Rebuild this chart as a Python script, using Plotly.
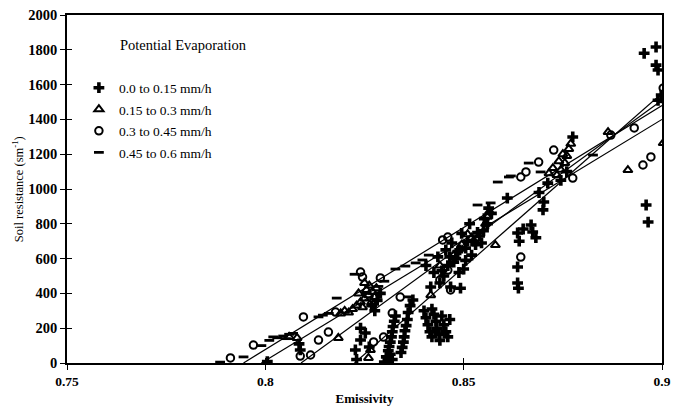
import plotly.graph_objects as go

# Soil resistance vs surface emissivity, grouped by potential evaporation class

# 0.0 to 0.15 mm/h
plus_emis = [0.8005, 0.8088, 0.8085, 0.8227, 0.8230, 0.8240, 0.8252, 0.8240, 0.8262,
             0.8300, 0.8310, 0.8320, 0.8305, 0.8315, 0.8310, 0.8312, 0.8315, 0.8318, 0.8320, 0.8322, 0.8325, 0.8328,
             0.8342, 0.8345, 0.8348, 0.8350, 0.8352, 0.8355, 0.8358, 0.8360, 0.8365, 0.8372,
             0.8400, 0.8405, 0.8410, 0.8415, 0.8420, 0.8425, 0.8430, 0.8432, 0.8438, 0.8440, 0.8445, 0.8450, 0.8455, 0.8460, 0.8465, 0.8420,
             0.8417, 0.8440, 0.8467, 0.8492, 0.8450, 0.8460, 0.8480, 0.8490, 0.8500, 0.8510, 0.8520, 0.8530, 0.8540, 0.8550,
             0.8470, 0.8495, 0.8425, 0.8405, 0.8435, 0.8515, 0.8560, 0.8570,
             0.8445, 0.8475, 0.8485, 0.8505, 0.8525, 0.8535, 0.8545, 0.8465, 0.8455, 0.8505, 0.8488, 0.8552, 0.8563,
             0.8268, 0.8282, 0.8276, 0.8290,
             0.8636, 0.8640, 0.8636, 0.8636, 0.8638, 0.8674, 0.8670, 0.8682, 0.8650,
             0.8702, 0.8700, 0.8712, 0.8610, 0.8690, 0.8775, 0.8745, 0.8760,
             0.8955, 0.8985, 0.8985, 0.8990, 0.8990, 0.8998, 0.8960, 0.8965]
plus_res = [8, 75, 110, 75, 20, 200, 172, 132, 92,
            5, 10, 20, 35, 50, 70, 95, 120, 150, 180, 210, 240, 270,
            60, 90, 120, 150, 185, 215, 250, 290, 330, 362,
            300, 260, 220, 180, 150, 280, 240, 200, 165, 130, 270, 220, 180, 150, 250, 310,
            437, 460, 437, 430, 500, 560, 600, 650, 540, 700, 620, 680, 730, 760,
            690, 745, 520, 560, 610, 800, 800, 860,
            530, 580, 640, 660, 700, 750, 690, 610, 650, 590, 520, 830, 890,
            330, 360, 300, 400,
            747, 700, 552, 460, 430, 753, 793, 720, 770,
            925, 880, 1034, 948, 980, 1299, 1050, 1100,
            1780, 1816, 1712, 1684, 1510, 1540, 908, 810]

# 0.15 to 0.3 mm/h
tri_emis = [0.8060, 0.8080, 0.8184, 0.8260, 0.8265,
            0.8200, 0.8220, 0.8230, 0.8240, 0.8250, 0.8260, 0.8270, 0.8280, 0.8262, 0.8250, 0.8275, 0.8210, 0.8190,
            0.8235, 0.8255, 0.8268, 0.8245,
            0.8417, 0.8580, 0.8510, 0.8560, 0.8565, 0.8555, 0.8475, 0.8440, 0.8520, 0.8495,
            0.8715, 0.8725, 0.8735, 0.8740, 0.8745, 0.8750, 0.8755, 0.8760, 0.8765, 0.8770,
            0.8864, 0.8914, 0.9003]
tri_res = [150, 144, 144, 29, 75,
           300, 310, 330, 350, 370, 390, 410, 430, 445, 460, 380, 290, 285,
           400, 420, 350, 320,
           390, 678, 740, 840, 870, 800, 620, 560, 720, 680,
           1090, 1120, 1080, 1160, 1110, 1200, 1150, 1190, 1230, 1260,
           1327, 1109, 1264]

# 0.3 to 0.45 mm/h
circ_emis = [0.7912, 0.7970, 0.8088, 0.8114, 0.8134, 0.8159, 0.8177, 0.8096, 0.8240, 0.8245,
             0.8290, 0.8340, 0.8320, 0.8298, 0.8273, 0.8447, 0.8460, 0.8440, 0.8460, 0.8467,
             0.8644, 0.8727, 0.8689, 0.8657, 0.8644, 0.8930, 0.8871, 0.8775, 0.8952, 0.8972,
             0.9003, 0.8998]
circ_res = [29, 103, 40, 46, 132, 178, 293, 265, 523, 494,
            489, 379, 287, 149, 121, 707, 724, 477, 534, 420,
            609, 1224, 1155, 1098, 1069, 1351, 1310, 1063, 1138, 1184,
            1580, 1520]

# 0.45 to 0.6 mm/h
dash_emis = [0.7886, 0.7945, 0.7990, 0.8010, 0.8030, 0.8045, 0.8060, 0.8070, 0.8134, 0.8145,
             0.8160, 0.8180, 0.8225, 0.8255, 0.8285, 0.8300, 0.8328, 0.8353, 0.8379, 0.8396,
             0.8360, 0.8412, 0.8535, 0.8568, 0.8586, 0.8614, 0.8664, 0.8694, 0.8619, 0.8826,
             0.8020, 0.8052]
dash_res = [5, 35, 100, 130, 145, 155, 165, 170, 265, 275,
            285, 373, 510, 400, 440, 470, 540, 557, 575, 592,
            380, 620, 908, 920, 1040, 1069, 1149, 1098, 1075, 1195,
            150, 140]

# Fitted lines: emissivity where resistance is zero, and resistance at emissivity 0.9
fit_emis0 = [0.8225, 0.8090, 0.7945, 0.7990]
fit_res_end = [1550, 1510, 1480, 1400]
fit_emis_end = 0.9

series_names = ["0.0 to 0.15 mm/h", "0.15 to 0.3 mm/h", "0.3 to 0.45 mm/h", "0.45 to 0.6 mm/h"]

serif = "Liberation Serif"
fig = go.Figure()

marker_styles = [
    dict(symbol="cross", size=9, color="black"),
    dict(symbol="triangle-up-open", size=8, color="black", line=dict(width=2, color="black")),
    dict(symbol="circle-open", size=7.5, color="black", line=dict(width=2, color="black")),
    dict(symbol="line-ew-open", size=7, color="black", line=dict(width=2.8, color="black")),
]
data_sets = [(plus_emis, plus_res), (tri_emis, tri_res), (circ_emis, circ_res), (dash_emis, dash_res)]

for name, (xs, ys), mk in zip(series_names, data_sets, marker_styles):
    fig.add_trace(go.Scatter(x=xs, y=ys, mode="markers", name=name, marker=mk,
                             legendgroup=name))

for x0, yend in zip(fit_emis0, fit_res_end):
    fig.add_trace(go.Scatter(x=[x0, fit_emis_end], y=[0, yend], mode="lines",
                             line=dict(color="black", width=1.2), showlegend=False,
                             hoverinfo="skip"))

fig.update_layout(
    width=680, height=406,
    margin=dict(l=67, r=18, t=15, b=43),
    paper_bgcolor="white", plot_bgcolor="white",
    showlegend=True,
    legend=dict(x=0.02, y=0.835, xanchor="left", yanchor="top",
                font=dict(family=serif, size=13.5, color="black"),
                bgcolor="rgba(0,0,0,0)", tracegroupgap=1, itemwidth=30),
    xaxis=dict(range=[0.75, 0.9], tickvals=[0.75, 0.8, 0.85, 0.9],
               ticktext=["0.75", "0.8", "0.85", "0.9"], automargin=False,
               showgrid=False, zeroline=False, showline=True, linecolor="black",
               linewidth=1.5, mirror=True, ticks="outside", ticklen=5,
               tickcolor="black", tickwidth=1.2,
               tickfont=dict(family=serif, size=13.5, color="black", weight="bold"),
               title=dict(text="Emissivity", font=dict(family=serif, size=13,
                                                       color="black", weight="bold"),
                          standoff=12)),
    yaxis=dict(range=[0, 2000], dtick=200, showgrid=False, zeroline=False,
               automargin=False,
               showline=True, linecolor="black", linewidth=1.5, mirror=True,
               ticks="outside", ticklen=5, tickcolor="black", tickwidth=1.2,
               tickfont=dict(family=serif, size=14.5, color="black", weight="bold")),
    # companion axes carrying the inner half of the crossing ticks
    xaxis2=dict(range=[0.75, 0.9], tickvals=[0.75, 0.8, 0.85, 0.9], overlaying="x",
                showticklabels=False, showgrid=False, zeroline=False, ticks="inside",
                ticklen=5, tickcolor="black", tickwidth=1.2, side="bottom"),
    yaxis2=dict(range=[0, 2000], dtick=200, overlaying="y", showticklabels=False,
                showgrid=False, zeroline=False, ticks="inside", ticklen=5,
                tickcolor="black", tickwidth=1.2, side="left"),
    annotations=[
        dict(text="Potential Evaporation", x=0.086, y=0.914, xref="paper", yref="paper",
             xanchor="left", yanchor="middle", showarrow=False,
             font=dict(family=serif, size=14.5, color="black")),
        dict(text="Soil resistance (sm<sup>-1</sup>)", x=-0.082, y=0.5, xref="paper",
             yref="paper", xanchor="center", yanchor="middle", textangle=-90,
             showarrow=False, font=dict(family=serif, size=12.5, color="black")),
    ],
)

# an invisible point keeps the companion axes drawn
fig.add_trace(go.Scatter(x=[0.75], y=[0], xaxis="x2", yaxis="y2", mode="markers",
                         marker=dict(size=0.1, opacity=0), showlegend=False,
                         hoverinfo="skip"))

fig.write_html("out.html")
